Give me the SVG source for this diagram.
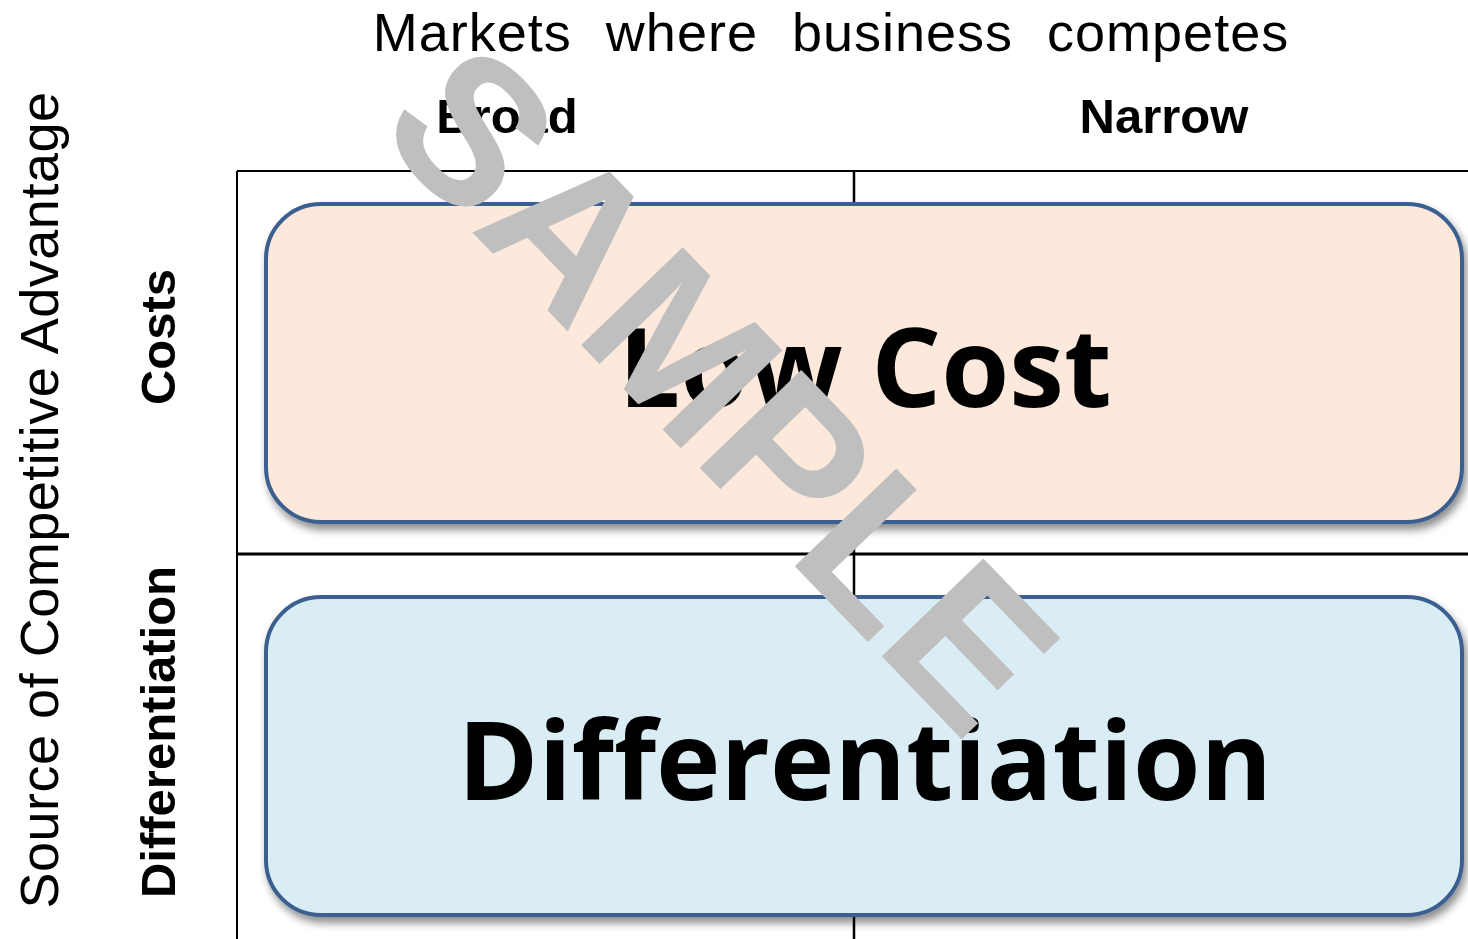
<svg xmlns="http://www.w3.org/2000/svg" width="1468" height="939" viewBox="0 0 1468 939">
<defs>
<filter id="sh" x="-5%" y="-5%" width="115%" height="125%">
<feGaussianBlur in="SourceAlpha" stdDeviation="4"/>
<feOffset dx="3" dy="6" result="b"/>
<feComponentTransfer><feFuncA type="linear" slope="0.45"/></feComponentTransfer>
<feMerge><feMergeNode/><feMergeNode in="SourceGraphic"/></feMerge>
</filter>
</defs>
<style>
.hdr{font-family:"Liberation Sans",Arial,sans-serif;font-size:54px;fill:#000}
.sub{font-family:"Liberation Sans",Arial,sans-serif;font-size:49px;font-weight:bold;fill:#000}
.big{font-family:"Open Sans","Liberation Sans",sans-serif;font-weight:bold;fill:#000;text-anchor:middle}
.box{stroke:#3A5F8F;stroke-width:4;filter:url(#sh)}
.grid{stroke:#000;fill:none}
</style>
<rect width="1468" height="939" fill="#fff"/>
<g id="grid">
<line class="grid" x1="237" y1="171" x2="1468" y2="171" stroke-width="2"/>
<line class="grid" x1="237" y1="171" x2="237" y2="939" stroke-width="2"/>
<line class="grid" x1="854" y1="171" x2="854" y2="939" stroke-width="2.5"/>
<line class="grid" x1="237" y1="554" x2="1468" y2="554" stroke-width="3"/>
</g>
<g id="header">
<text class="hdr" x="831" y="51" text-anchor="middle" word-spacing="18" letter-spacing="1">Markets where business competes</text>
<text class="sub" x="507" y="133" text-anchor="middle">Broad</text>
<text class="sub" x="1164" y="133" text-anchor="middle">Narrow</text>
</g>
<g id="side">
<text class="hdr" transform="translate(58,500) rotate(-90)" text-anchor="middle" font-size="55" letter-spacing="0.5">Source of Competitive Advantage</text>
<text class="sub" transform="translate(175,337) rotate(-90)" text-anchor="middle">Costs</text>
<text class="sub" transform="translate(175,732) rotate(-90)" text-anchor="middle">Differentiation</text>
</g>
<g id="lowcost">
<rect class="box" x="266" y="204" width="1196" height="318" rx="55" fill="#FCE9DB"/>
<text class="big" x="865" y="407" font-size="110">Low Cost</text>
</g>
<g id="differentiation">
<rect class="box" x="266" y="597" width="1196" height="318" rx="55" fill="#DAEDF4"/>
<text class="big" x="865" y="800" font-size="109">Differentiation</text>
</g>
<g id="watermark">
<text transform="translate(722,388) rotate(46)" text-anchor="middle" dominant-baseline="central" font-family="Liberation Sans,Arial,sans-serif" font-weight="bold" font-size="205" fill="#BFBFBF">SAMPLE</text>
</g>
</svg>
